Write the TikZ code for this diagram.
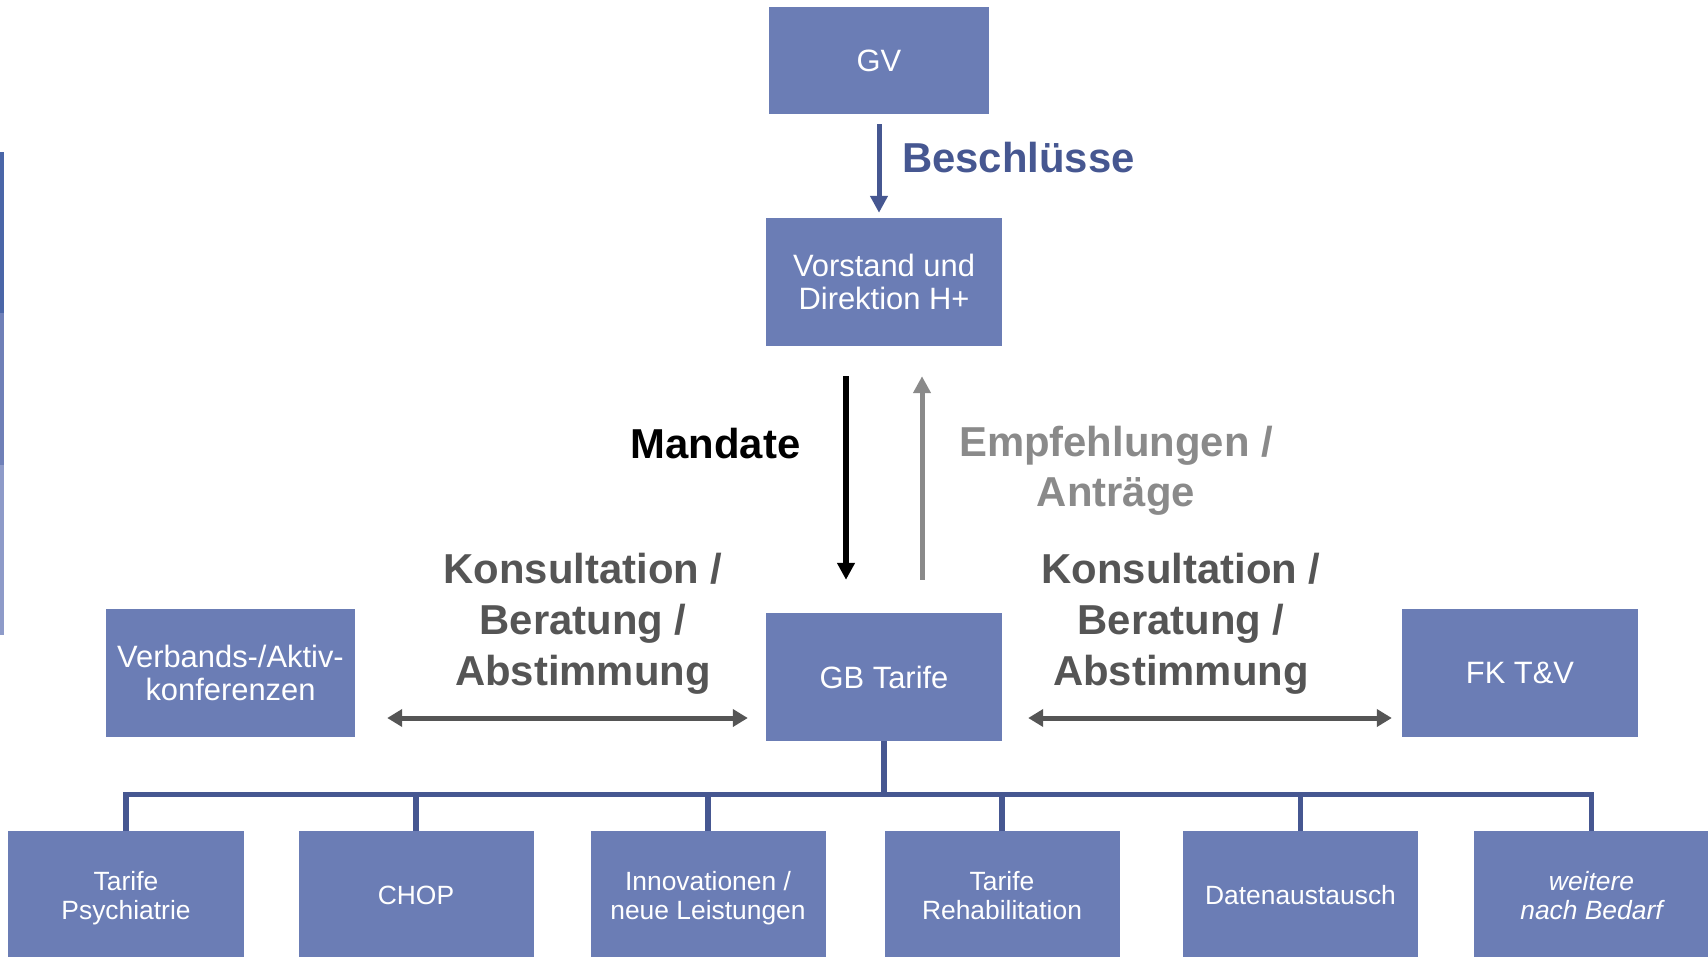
\documentclass[tikz,border=0pt]{standalone}
\usepackage{fontspec}
\setmainfont{Liberation Sans}
\usetikzlibrary{arrows.meta}

\definecolor{boxblue}{RGB}{107,125,181}
\definecolor{lineblue}{RGB}{70,87,145}
\definecolor{darkgrey}{RGB}{85,85,85}
\definecolor{midgrey}{RGB}{138,138,138}
\definecolor{bardark}{RGB}{74,102,168}
\definecolor{barmid}{RGB}{111,128,184}
\definecolor{barlight}{RGB}{142,155,201}

\tikzset{
  box/.style={fill=boxblue, text=white, align=center, inner sep=0pt,
    minimum width=236bp, minimum height=128bp, font=\fontsize{31}{34}\selectfont},
  subbox/.style={box, minimum width=235bp, minimum height=136bp,
    font=\fontsize{26.5}{29}\selectfont},
  biglabel/.style={align=center, inner sep=0pt, font=\fontsize{42}{51}\selectfont\bfseries},
  flow/.style={line width=5bp, -{Triangle[width=17bp,length=17bp]}},
  both/.style={draw=darkgrey, line width=5bp,
    {Triangle[width=17bp,length=15bp]}-{Triangle[width=17bp,length=15bp]}},
  tree/.style={draw=lineblue, line width=5.5bp},
}

\begin{document}
\begin{tikzpicture}[x=1bp, y=-1bp]
\useasboundingbox (0,0) rectangle (1708,956);
\clip (0,0) rectangle (1708,956);

\fill[bardark] (0,152) rectangle (4,313);
\fill[barmid] (0,313) rectangle (4,465);
\fill[barlight] (0,465) rectangle (4,635);

\node[box, minimum width=220bp, minimum height=107bp] (gv) at (879,60.5) {GV};
\node[box] (vorstand) at (884,282) {Vorstand und\\Direktion H+};
\node[box] (gb) at (884,677) {GB Tarife};
\node[box, minimum width=249bp] (verbands) at (230.5,673) {Verbands-/Aktiv-\\konferenzen};
\node[box] (fk) at (1520,673) {FK T\&V};

\node[subbox] (psych) at (126,899) {\strut Tarife\\\strut Psychiatrie};
\node[subbox] (chop) at (416,899) {\strut CHOP};
\node[subbox] (innov) at (708,899) {\strut Innovationen /\\\strut neue Leistungen};
\node[subbox] (reha) at (1002,899) {\strut Tarife\\\strut Rehabilitation};
\node[subbox] (daten) at (1300.5,899) {\strut Datenaustausch};
\node[subbox] (weitere) at (1591.5,899) {\strut\itshape weitere\\\strut\itshape nach Bedarf};

\coordinate (bus) at (0,794.5);
\draw[tree] (gb.south) -- (gb.south |- bus);
\draw[tree] (psych.north) |- (weitere.north |- bus) -- (weitere.north);
\draw[tree] (chop.north) -- (chop.north |- bus);
\draw[tree] (innov.north) -- (innov.north |- bus);
\draw[tree] (reha.north) -- (reha.north |- bus);
\draw[tree] (daten.north) -- (daten.north |- bus);

\draw[flow, draw=lineblue, shorten <=10bp, shorten >=5bp] (gv.south) -- (gv.south |- vorstand.north);
\draw[flow, line width=6bp, shorten <=30bp, shorten >=33bp] ([xshift=-38bp]vorstand.south) -- ([xshift=-38bp]gb.north);
\draw[flow, draw=midgrey, shorten <=33bp, shorten >=30bp] ([xshift=38bp]gb.north) -- ([xshift=38bp]vorstand.south);

\coordinate (mid) at (0,718);
\draw[both, shorten <=32bp, shorten >=18bp] (verbands.east |- mid) -- (gb.west |- mid);
\draw[both, shorten <=26bp, shorten >=10bp] (gb.east |- mid) -- (fk.west |- mid);

\node[biglabel, text=lineblue, anchor=base west] (beschluesse) at (902,172) {Beschlüsse};
\node[biglabel, anchor=base] (mandate) at (715.5,458) {Mandate};
\node[biglabel, text=midgrey, font=\fontsize{42}{50}\selectfont\bfseries] (empf) at (1116,471) {Empfehlungen /\\Anträge};
\node[biglabel, text=darkgrey] (konsleft) at (583,624) {Konsultation /\\Beratung /\\Abstimmung};
\node[biglabel, text=darkgrey] (konsright) at (1181,624) {Konsultation /\\Beratung /\\Abstimmung};
\end{tikzpicture}
\end{document}
